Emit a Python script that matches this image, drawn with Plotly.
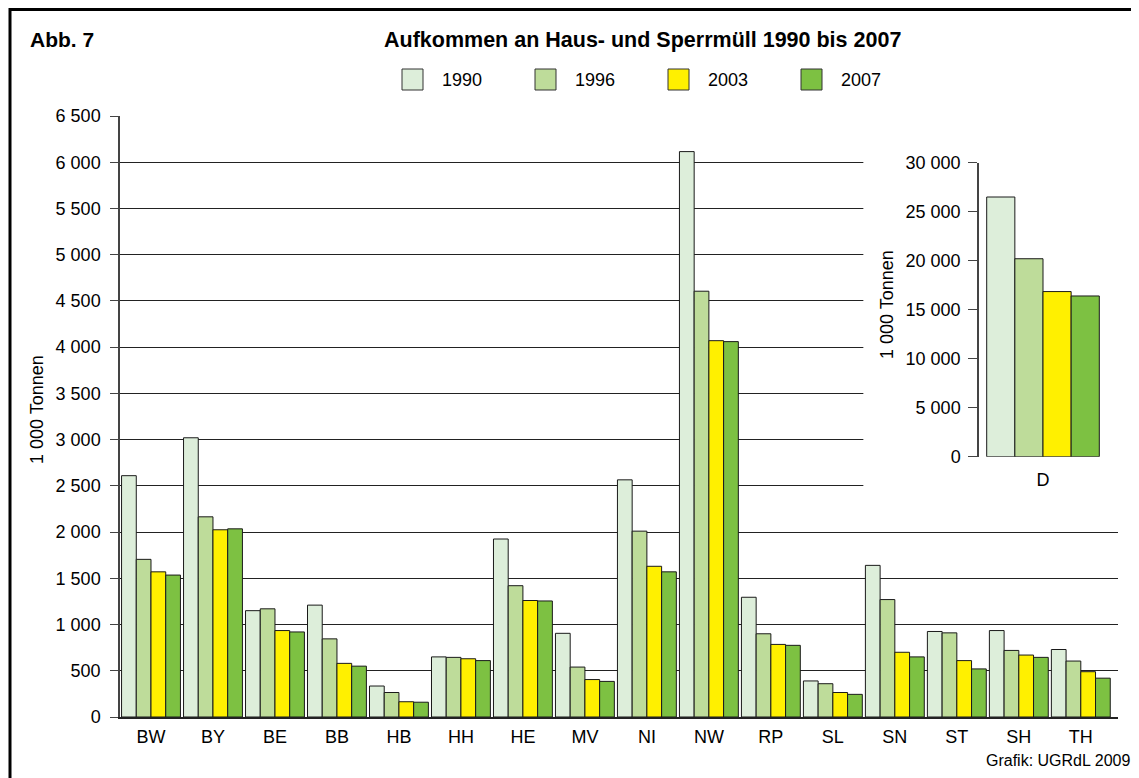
import plotly.graph_objects as go

# ---------------- data ----------------
laender = ["BW", "BY", "BE", "BB", "HB", "HH", "HE", "MV", "NI", "NW", "RP", "SL", "SN", "ST", "SH", "TH"]
jahre = ["1990", "1996", "2003", "2007"]
v1990 = [2610, 3020, 1150, 1210, 335, 650, 1925, 905, 2565, 6115, 1295, 390, 1640, 925, 935, 730]
v1996 = [1705, 2165, 1170, 845, 265, 645, 1420, 540, 2010, 4605, 900, 360, 1270, 910, 720, 605]
v2003 = [1570, 2025, 935, 580, 165, 630, 1260, 405, 1630, 4070, 785, 265, 700, 610, 670, 490]
v2007 = [1535, 2035, 920, 550, 160, 610, 1255, 385, 1570, 4060, 775, 245, 650, 520, 645, 420]
deutschland = ["D"]
d_werte = [26500, 20200, 16850, 16400]
farben = ["#DDEEDA", "#BEDC9A", "#FFF000", "#7DC142"]
y_ticks_main = list(range(0, 6501, 500))
y_ticks_inset = list(range(0, 30001, 5000))

OFF = 8                      # page body margin of the html page
W, H = 1139 - OFF, 778 - OFF
L, R, T, B = 120, 1118, 116, 717   # plot area in page pixels
FONT = "Liberation Sans, Arial, sans-serif"


def px(x):
    return (x - L) / (R - L)


def py(y):
    return (B - y) / (B - T)


fig = go.Figure()
series = [v1990, v1996, v2003, v2007]
for name, vals, col in zip(jahre, series, farben):
    fig.add_trace(go.Bar(x=laender, y=vals, name=name, marker_color=col,
                         marker_line=dict(color="#1a1a1a", width=1),
                         showlegend=False, xaxis="x", yaxis="y"))
for name, val, col in zip(jahre, d_werte, farben):
    fig.add_trace(go.Bar(x=deutschland, y=[val], name=name, marker_color=col,
                         marker_line=dict(color="#1a1a1a", width=1),
                         showlegend=False, xaxis="x2", yaxis="y2"))

shapes = []
annotations = []

# white box masking gridlines behind the inset (between gridlines and bars)
n = len(laender)
shapes.append(dict(type="rect", xref="x", yref="y",
                   x0=(868 - L) / (R - L) * n - 0.5, x1=n - 0.4,
                   y0=(B - 510) / (B - T) * 6500, y1=(B - 125) / (B - T) * 6500,
                   fillcolor="white", line=dict(width=0), layer="between"))

# outer frame
shapes.append(dict(type="rect", xref="paper", yref="paper",
                   x0=px(10), x1=px(1136), y0=py(800), y1=py(9.5),
                   fillcolor="rgba(0,0,0,0)", line=dict(color="black", width=3), layer="above"))

# custom legend
for i, (name, col) in enumerate(zip(jahre, farben)):
    x0 = 402 + i * 133
    shapes.append(dict(type="rect", xref="paper", yref="paper",
                       x0=px(x0), x1=px(x0 + 21), y0=py(90), y1=py(69),
                       fillcolor=col, line=dict(color="#333", width=1), layer="above"))
    annotations.append(dict(x=px(x0 + 38), y=py(80), xref="paper", yref="paper",
                            text=name, showarrow=False, xanchor="left", yanchor="middle",
                            font=dict(size=18, color="black", family=FONT)))

annotations += [
    dict(x=px(642), y=py(40), xref="paper", yref="paper", showarrow=False,
         text="<b>Aufkommen an Haus- und Sperrmüll 1990 bis 2007</b>",
         xanchor="center", yanchor="middle", font=dict(size=21.5, color="black", family=FONT)),
    dict(x=px(28), y=py(40), xref="paper", yref="paper", showarrow=False,
         text="<b>Abb. 7</b>", xanchor="left", yanchor="middle",
         font=dict(size=21, color="black", family=FONT)),
    dict(x=px(37), y=py(410), xref="paper", yref="paper", showarrow=False,
         text="1 000 Tonnen", textangle=-90, xanchor="center", yanchor="middle",
         font=dict(size=18, color="black", family=FONT)),
    dict(x=px(887), y=py(305), xref="paper", yref="paper", showarrow=False,
         text="1 000 Tonnen", textangle=-90, xanchor="center", yanchor="middle",
         font=dict(size=18, color="black", family=FONT)),
    dict(x=px(1132), y=py(760), xref="paper", yref="paper", showarrow=False,
         text="Grafik: UGRdL 2009", xanchor="right", yanchor="middle",
         font=dict(size=16, color="black", family=FONT)),
]

fig.update_layout(
    width=W, height=H,
    margin=dict(l=L - OFF, r=W - (R - OFF), t=T - OFF, b=H - (B - OFF), pad=0),
    paper_bgcolor="white", plot_bgcolor="rgba(0,0,0,0)",
    barmode="group", bargap=0.05, bargroupgap=0,
    separators=", ",
    font=dict(family=FONT, size=18, color="black"),
    showlegend=False,
    xaxis=dict(domain=[0, 1], showline=True, linecolor="#222", linewidth=1.5,
               ticks="", tickfont=dict(size=18), showgrid=False, fixedrange=True,
               ticklabelstandoff=3),
    yaxis=dict(domain=[0, 1], range=[0, 6500], tickvals=y_ticks_main, tickformat=",d",
               showline=True, linecolor="#444", linewidth=1.5,
               ticks="outside", ticklen=8, tickcolor="#444", tickwidth=1.2,
               ticklabelstandoff=6,
               showgrid=True, gridcolor="#222", gridwidth=1.3, zeroline=False,
               tickfont=dict(size=18)),
    xaxis2=dict(domain=[px(979), px(1107)], anchor="y2", range=[-0.54, 0.54],
                showline=False, ticks="", showgrid=False, tickfont=dict(size=18),
                ticklabelstandoff=10),
    yaxis2=dict(domain=[py(456.7), py(162.7)], anchor="x2", range=[0, 30000],
                tickvals=y_ticks_inset, tickformat=",d",
                showline=True, linecolor="#444", linewidth=1.5,
                ticks="outside", ticklen=9, tickcolor="#444", tickwidth=1.2,
                ticklabelstandoff=4,
                showgrid=False, zeroline=False, tickfont=dict(size=18)),
    shapes=shapes,
    annotations=annotations,
)

fig.write_html("out.html")
